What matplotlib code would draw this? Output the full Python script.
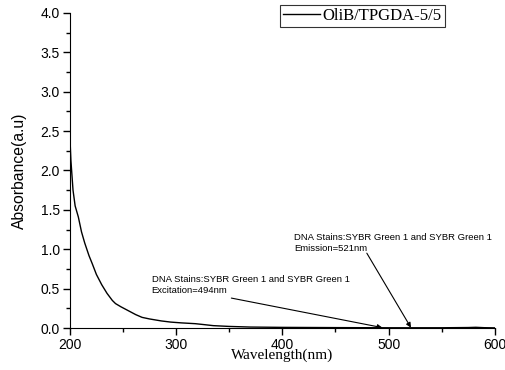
import matplotlib.pyplot as plt
from matplotlib.ticker import MultipleLocator

wavelength = [200, 201, 203, 205, 208, 211, 214, 218, 221, 225, 230, 235, 240, 243,
              248, 255, 262, 268, 275, 286, 295, 305, 318, 325, 335, 350, 370, 400,
              450, 500, 550, 575, 582, 590, 600]
absorbance = [2.45, 2.13, 1.75, 1.55, 1.41, 1.22, 1.08, 0.92, 0.82, 0.68, 0.55, 0.44,
              0.35, 0.31, 0.27, 0.22, 0.17, 0.135, 0.115, 0.09, 0.075, 0.065, 0.055,
              0.045, 0.03, 0.02, 0.012, 0.008, 0.005, 0.003, 0.003, 0.006, 0.009,
              0.004, 0.002]
series_name = 'OliB/TPGDA-5/5'

exc_label = 'DNA Stains:SYBR Green 1 and SYBR Green 1\nExcitation=494nm'
emi_label = 'DNA Stains:SYBR Green 1 and SYBR Green 1\nEmission=521nm'
exc_nm = 494
emi_nm = 521

sans = ['Liberation Sans', 'DejaVu Sans']
serif = ['Liberation Serif', 'DejaVu Serif']

fig = plt.figure(figsize=(5.06, 3.7), dpi=100)
ax = fig.add_axes([0.138, 0.1135, 0.840, 0.8515])

ax.plot(wavelength, absorbance, color='black', linewidth=1.0, label=series_name)

ax.set_xlim(200, 600)
ax.set_ylim(0, 4.0)
ax.xaxis.set_major_locator(MultipleLocator(100))
ax.xaxis.set_minor_locator(MultipleLocator(50))
ax.yaxis.set_major_locator(MultipleLocator(0.5))
ax.yaxis.set_minor_locator(MultipleLocator(0.25))

ax.spines['top'].set_visible(False)
ax.spines['right'].set_visible(False)
ax.tick_params(which='major', direction='out', length=5, width=1, labelsize=10)
ax.tick_params(axis='y', which='major', pad=2)
ax.tick_params(axis='x', which='major', pad=2.5)
ax.tick_params(which='minor', direction='out', length=3, width=1)
ax.set_xticks(ax.get_xticks())
ax.set_xticklabels([f'{v:.0f}' for v in ax.get_xticks()], family=sans, fontsize=10)
ax.set_yticks(ax.get_yticks())
ax.set_yticklabels([f'{v:.1f}' for v in ax.get_yticks()], family=sans, fontsize=10)
ax.set_xlim(200, 600)
ax.set_ylim(0, 4.0)

ax.set_ylabel('Absorbance(a.u)', family=sans, fontsize=11.3)
ax.yaxis.set_label_coords(-0.10, 0.5)
ax.set_xlabel('Wavelength(nm)', family=serif, fontsize=11)
ax.xaxis.set_label_coords(0.5, -0.065)

# Anotaciones
ax.text(277, 0.67, exc_label, family=sans, fontsize=6.8, va='top', ha='left',
        linespacing=1.3)
ax.annotate('', xy=(exc_nm, 0.005), xytext=(352, 0.38),
            arrowprops=dict(arrowstyle='-|>', color='black', lw=0.8,
                            mutation_scale=7, shrinkA=0, shrinkB=0))
ax.text(411, 1.21, emi_label, family=sans, fontsize=6.8, va='top', ha='left',
        linespacing=1.3)
ax.annotate('', xy=(emi_nm, 0.005), xytext=(479.5, 0.95),
            arrowprops=dict(arrowstyle='-|>', color='black', lw=0.8,
                            mutation_scale=7, shrinkA=0, shrinkB=0))

leg = fig.legend(loc='center', bbox_to_anchor=(0.716, 0.957), prop={'family': serif, 'size': 12},
                 frameon=True, fancybox=False, handlelength=2.2, borderpad=0.2,
                 handletextpad=0.15)
leg.get_frame().set_edgecolor('black')
leg.get_frame().set_linewidth(0.8)

fig.savefig('out.png', dpi=100)
